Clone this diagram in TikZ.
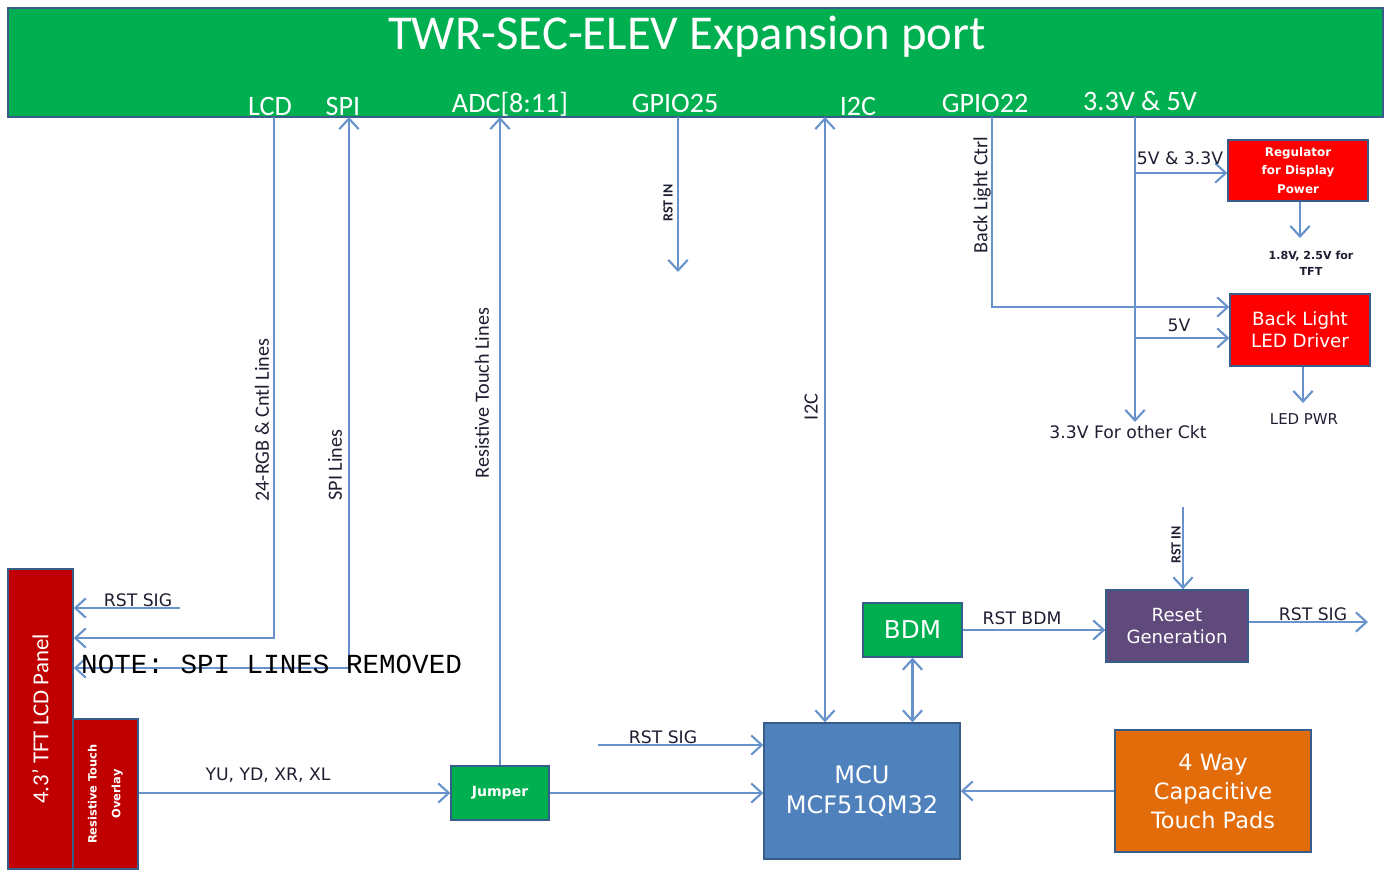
\documentclass[tikz,border=0pt]{standalone}
\usepackage{fontspec}
\setmainfont{Carlito}
\newfontfamily\boxfont{DejaVu Sans}
\newfontfamily\notefont{Liberation Mono}
\usetikzlibrary{arrows.meta}

\definecolor{portgreen}{RGB}{0,176,80}
\definecolor{brightred}{RGB}{255,0,0}
\definecolor{panelred}{RGB}{192,0,0}
\definecolor{rstpurple}{RGB}{96,74,123}
\definecolor{mcublue}{RGB}{79,129,189}
\definecolor{padorange}{RGB}{227,108,10}
\definecolor{boxedge}{RGB}{56,93,138}
\definecolor{linecol}{RGB}{104,146,204}
\definecolor{labcol}{RGB}{30,30,50}

\begin{document}
\begin{tikzpicture}[x=0.02cm,y=-0.02cm,
    >={Straight Barb[length=6pt,width=11pt]},
    wire/.style={draw=linecol, line width=1.2pt},
    blk/.style={draw=boxedge, line width=0.8pt, text=white, align=center, inner sep=0pt},
    pinlbl/.style={text=white, font=\fontsize{16}{18}\selectfont},
    sig/.style={text=labcol, font=\boxfont\fontsize{9.8}{11}\selectfont},
    vlbl/.style={rotate=90, text=labcol, font=\fontsize{11.5}{13}\selectfont},
    tinylbl/.style={rotate=90, text=labcol, font=\bfseries\fontsize{8}{9}\selectfont}]
    \useasboundingbox (0,0) rectangle (1385,875);

    % expansion port bar and its pins
    \node[blk, fill=portgreen, minimum width=27.5cm, minimum height=2.18cm] (port) at (695.5,62.5) {};
    \node[text=white, font=\fontsize{27.7}{30}\selectfont] (ttl) at (687,37) {TWR-SEC-ELEV Expansion port};
    \node[pinlbl] (lLCD) at (270,106) {LCD};
    \node[pinlbl] (lSPI) at (343,106) {SPI};
    \node[pinlbl] (lADC) at (510,104) {ADC[8:11]};
    \node[pinlbl] (lG25) at (675,103) {GPIO25};
    \node[pinlbl] (lI2C) at (858,106) {I2C};
    \node[pinlbl] (lG22) at (985,103) {GPIO22};
    \node[pinlbl] (lV) at (1140,101) {3.3V \& 5V};
    \coordinate (cLCD) at (274,117);
    \coordinate (cSPI) at (349,117);
    \coordinate (cADC) at (500,117);
    \coordinate (cG25) at (678,117);
    \coordinate (cI2C) at (825,117);
    \coordinate (cG22) at (992,117);
    \coordinate (cV) at (1135,117);

    % blocks
    \node[blk, fill=panelred, minimum width=1.3cm, minimum height=6cm] (lcd) at (40.5,719) {};
    \node[rotate=90, text=white, font=\fontsize{13}{15}\selectfont] (lcdtxt) at (lcd.center) {4.3' TFT LCD Panel};
    \node[blk, fill=panelred, minimum width=1.3cm, minimum height=3cm] (ovl) at (105.5,794) {};
    \node[rotate=90, text=white, align=center, font=\boxfont\bfseries\fontsize{6.5}{13.5}\selectfont] (ovltxt) at (ovl.center) {Resistive Touch\\Overlay};
    \node[blk, fill=portgreen, minimum width=1.96cm, minimum height=1.08cm, font=\boxfont\bfseries\fontsize{8}{9}\selectfont] (jmp) at (500,793) {Jumper};
    \node[blk, fill=mcublue, minimum width=3.92cm, minimum height=2.72cm, font=\boxfont\fontsize{13.7}{17}\selectfont] (mcu) at (862,791) {MCU\\MCF51QM32};
    \node[blk, fill=portgreen, minimum width=1.98cm, minimum height=1.08cm, font=\boxfont\fontsize{14}{16}\selectfont] (bdm) at (912.5,630) {BDM};
    \node[blk, fill=rstpurple, minimum width=2.84cm, minimum height=1.44cm, font=\boxfont\fontsize{10.3}{12.5}\selectfont] (rst) at (1177,626) {Reset\\Generation};
    \node[blk, fill=padorange, minimum width=3.92cm, minimum height=2.44cm, font=\boxfont\fontsize{12.8}{16.5}\selectfont] (pads) at (1213,791) {4 Way\\Capacitive\\Touch Pads};
    \node[blk, fill=brightred, minimum width=2.8cm, minimum height=1.22cm, font=\boxfont\bfseries\fontsize{6.8}{10.5}\selectfont] (reg) at (1298,170.5) {Regulator\\for Display\\Power};
    \node[blk, fill=brightred, minimum width=2.8cm, minimum height=1.44cm, font=\boxfont\fontsize{10.4}{12.5}\selectfont] (bl) at (1300,330) {Back Light\\LED Driver};

    % free ends
    \coordinate (rsL) at (180,608);
    \coordinate (g25end) at (678,272);
    \coordinate (rsM) at (598,745);
    \coordinate (rstIn) at (1183,507);
    \coordinate (rsOut) at (1368,622);
    \coordinate (vEnd) at (1135,422);
    \coordinate (vA) at (1135,173);
    \coordinate (vB) at (1135,338);
    \coordinate (regOut) at (1300,238);
    \coordinate (blOut) at (1303,403);

    % connectors
    \draw[wire,->] (cLCD) |- (lcd.east |- 0,638);
    \draw[wire,<->] (cSPI) |- (lcd.east |- 0,668);
    \draw[wire,->] (rsL) -- (lcd.east |- rsL);
    \draw[wire,->] (jmp.north) -- (cADC);
    \draw[wire,->] (ovl.east |- jmp.west) -- (jmp.west);
    \draw[wire,->] (cG25) -- (g25end);
    \draw[wire,<->] (cI2C) -- (cI2C |- mcu.north);
    \draw[wire,<->] (bdm.south) -- (bdm.south |- mcu.north);
    \draw[wire,->] (bdm.east) -- (rst.west |- bdm.east);
    \draw[wire,->] (rstIn) -- (rstIn |- rst.north);
    \draw[wire,->] (rst.east |- rsOut) -- (rsOut);
    \draw[wire,->] (rsM) -- (mcu.west |- rsM);
    \draw[wire,->] (jmp.east) -- (mcu.west |- jmp.east);
    \draw[wire,->] (pads.west) -- (mcu.east |- pads.west);
    \draw[wire,->] (cG22) |- (bl.west |- 0,307);
    \draw[wire,->] (cV) -- (vEnd);
    \draw[wire,->] (vA) -- (reg.west |- vA);
    \draw[wire,->] (vB) -- (bl.west |- vB);
    \draw[wire,->] (reg.south -| regOut) -- (regOut);
    \draw[wire,->] (bl.south -| blOut) -- (blOut);

    % labels
    \node[vlbl] (tRGB) at (262,420) {24-RGB \& Cntl Lines};
    \node[vlbl] (tSPI) at (335,465) {SPI Lines};
    \node[vlbl] (tRes) at (482,393) {Resistive Touch Lines};
    \node[vlbl] (tI2C) at (811,407) {I2C};
    \node[vlbl] (tBL) at (982,195) {Back Light Ctrl};
    \node[tinylbl] (tIn1) at (668,203) {RST IN};
    \node[tinylbl] (tIn2) at (1176,545) {RST IN};
    \node[sig] (tRs1) at (138,600) {RST SIG};
    \node[sig] (tRs2) at (663,737) {RST SIG};
    \node[sig] (tRs3) at (1313,614) {RST SIG};
    \node[sig] (tBdm) at (1022,618) {RST BDM};
    \node[sig] (tYU) at (268,775) {YU, YD, XR, XL};
    \node[sig] (t53) at (1180,158) {5V \& 3.3V};
    \node[sig] (t5) at (1179,325) {5V};
    \node[sig] (tCkt) at (1128,432) {3.3V For other Ckt};
    \node[sig, align=center, font=\boxfont\bfseries\fontsize{6.3}{9}\selectfont] (tTFT) at (1311,263) {1.8V, 2.5V for\\TFT};
    \node[sig, font=\boxfont\fontsize{8.5}{10}\selectfont] (tPwr) at (1304,419) {LED PWR};
    \node[anchor=west, font=\notefont\fontsize{15.7}{18}\selectfont] (note) at (75,664) {NOTE: SPI LINES REMOVED};
\end{tikzpicture}
\end{document}
